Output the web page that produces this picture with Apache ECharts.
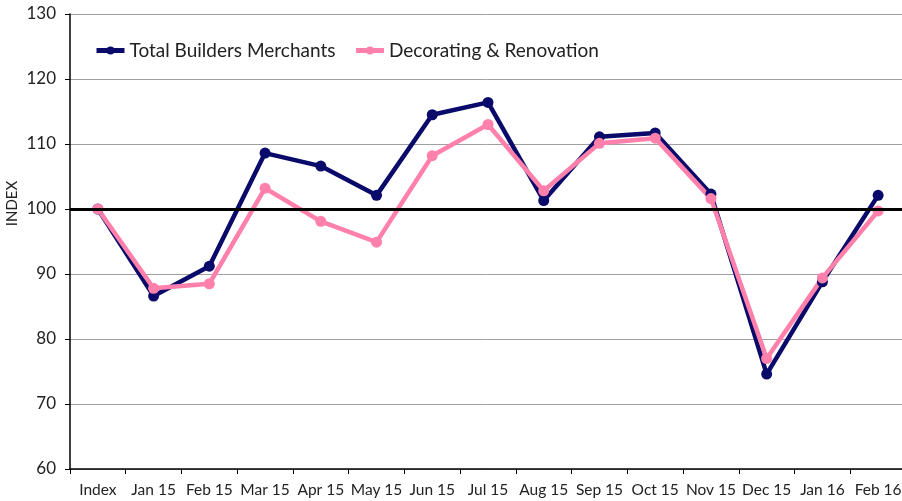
<!DOCTYPE html>
<html lang="en">
<head>
<meta charset="UTF-8"/>
<title>Builders Merchants Index</title>
<script src="https://cdn.jsdelivr.net/npm/echarts@6/dist/echarts.min.js"></script>
<style>
  html, body { margin: 0; padding: 0; background: #fff; }
  #main { width: 902px; height: 501px; }
</style>
</head>
<body>
<div id="main"></div>
<script>
// months on the x axis
var months = ['Index', 'Jan 15', 'Feb 15', 'Mar 15', 'Apr 15', 'May 15', 'Jun 15', 'Jul 15',
              'Aug 15', 'Sep 15', 'Oct 15', 'Nov 15', 'Dec 15', 'Jan 16', 'Feb 16'];
// index values
var totalBM = [100, 86.6, 91.2, 108.6, 106.6, 102.1, 114.5, 116.4,
               101.3, 111.1, 111.7, 102.3, 74.6, 88.8, 102.1];
var decoReno = [100, 87.8, 88.5, 103.2, 98.1, 94.9, 108.2, 113.0,
                102.8, 110.1, 110.9, 101.6, 77.0, 89.4, 99.7];

var font = 'Lato, "Open Sans", sans-serif';
var chart = echarts.init(document.getElementById('main'));

chart.setOption({
    animation: false,
    textStyle: { fontFamily: font },
    // plot area runs a few px past the right edge, like the original
    grid: { left: 70, width: 836, top: 14, bottom: 32, outerBoundsMode: 'none' },
    legend: {
        left: 89, top: 36,
        itemWidth: 28, itemHeight: 10, itemGap: 18,
        lineStyle: { width: 5 },
        textStyle: { fontSize: 19, color: '#222', fontFamily: font },
        data: ['Total Builders Merchants', 'Decorating & Renovation']
    },
    xAxis: {
        type: 'category',
        data: months,
        boundaryGap: true,
        axisLine: { lineStyle: { color: '#000', width: 1.5 } },
        axisTick: { show: true, length: 5, lineStyle: { color: '#000' } },
        axisLabel: { fontSize: 15.5, color: '#222', margin: 13, interval: 0 }
    },
    yAxis: {
        type: 'value',
        min: 60, max: 130, interval: 10,
        name: 'INDEX',
        nameLocation: 'middle',
        nameGap: 50,
        nameMoveOverlap: false,
        // padding lifts the rotated name above the middle of the axis
        nameTextStyle: { fontSize: 15, color: '#222', padding: [24, 0, 0, 76] },
        axisLine: { show: true, lineStyle: { color: '#000', width: 1.5 } },
        axisTick: { show: true, length: 5, inside: false, lineStyle: { color: '#000' } },
        axisLabel: { fontSize: 17, color: '#222', margin: 14 },
        splitLine: { lineStyle: { color: '#a0a0a0', width: 1 } }
    },
    series: [
        {
            name: 'Total Builders Merchants',
            type: 'line',
            data: totalBM,
            symbol: 'circle',
            symbolSize: 11,
            itemStyle: { color: '#0a0a6b' },
            lineStyle: { width: 4.5, color: '#0a0a6b' },
            markLine: {
                silent: true,
                symbol: 'none',
                label: { show: false },
                lineStyle: { color: '#000', width: 3, type: 'solid' },
                data: [{ yAxis: 100 }]
            }
        },
        {
            name: 'Decorating & Renovation',
            type: 'line',
            data: decoReno,
            symbol: 'circle',
            symbolSize: 11,
            itemStyle: { color: '#ff80ab' },
            lineStyle: { width: 4.5, color: '#ff80ab' }
        }
    ]
});
</script>
</body>
</html>
